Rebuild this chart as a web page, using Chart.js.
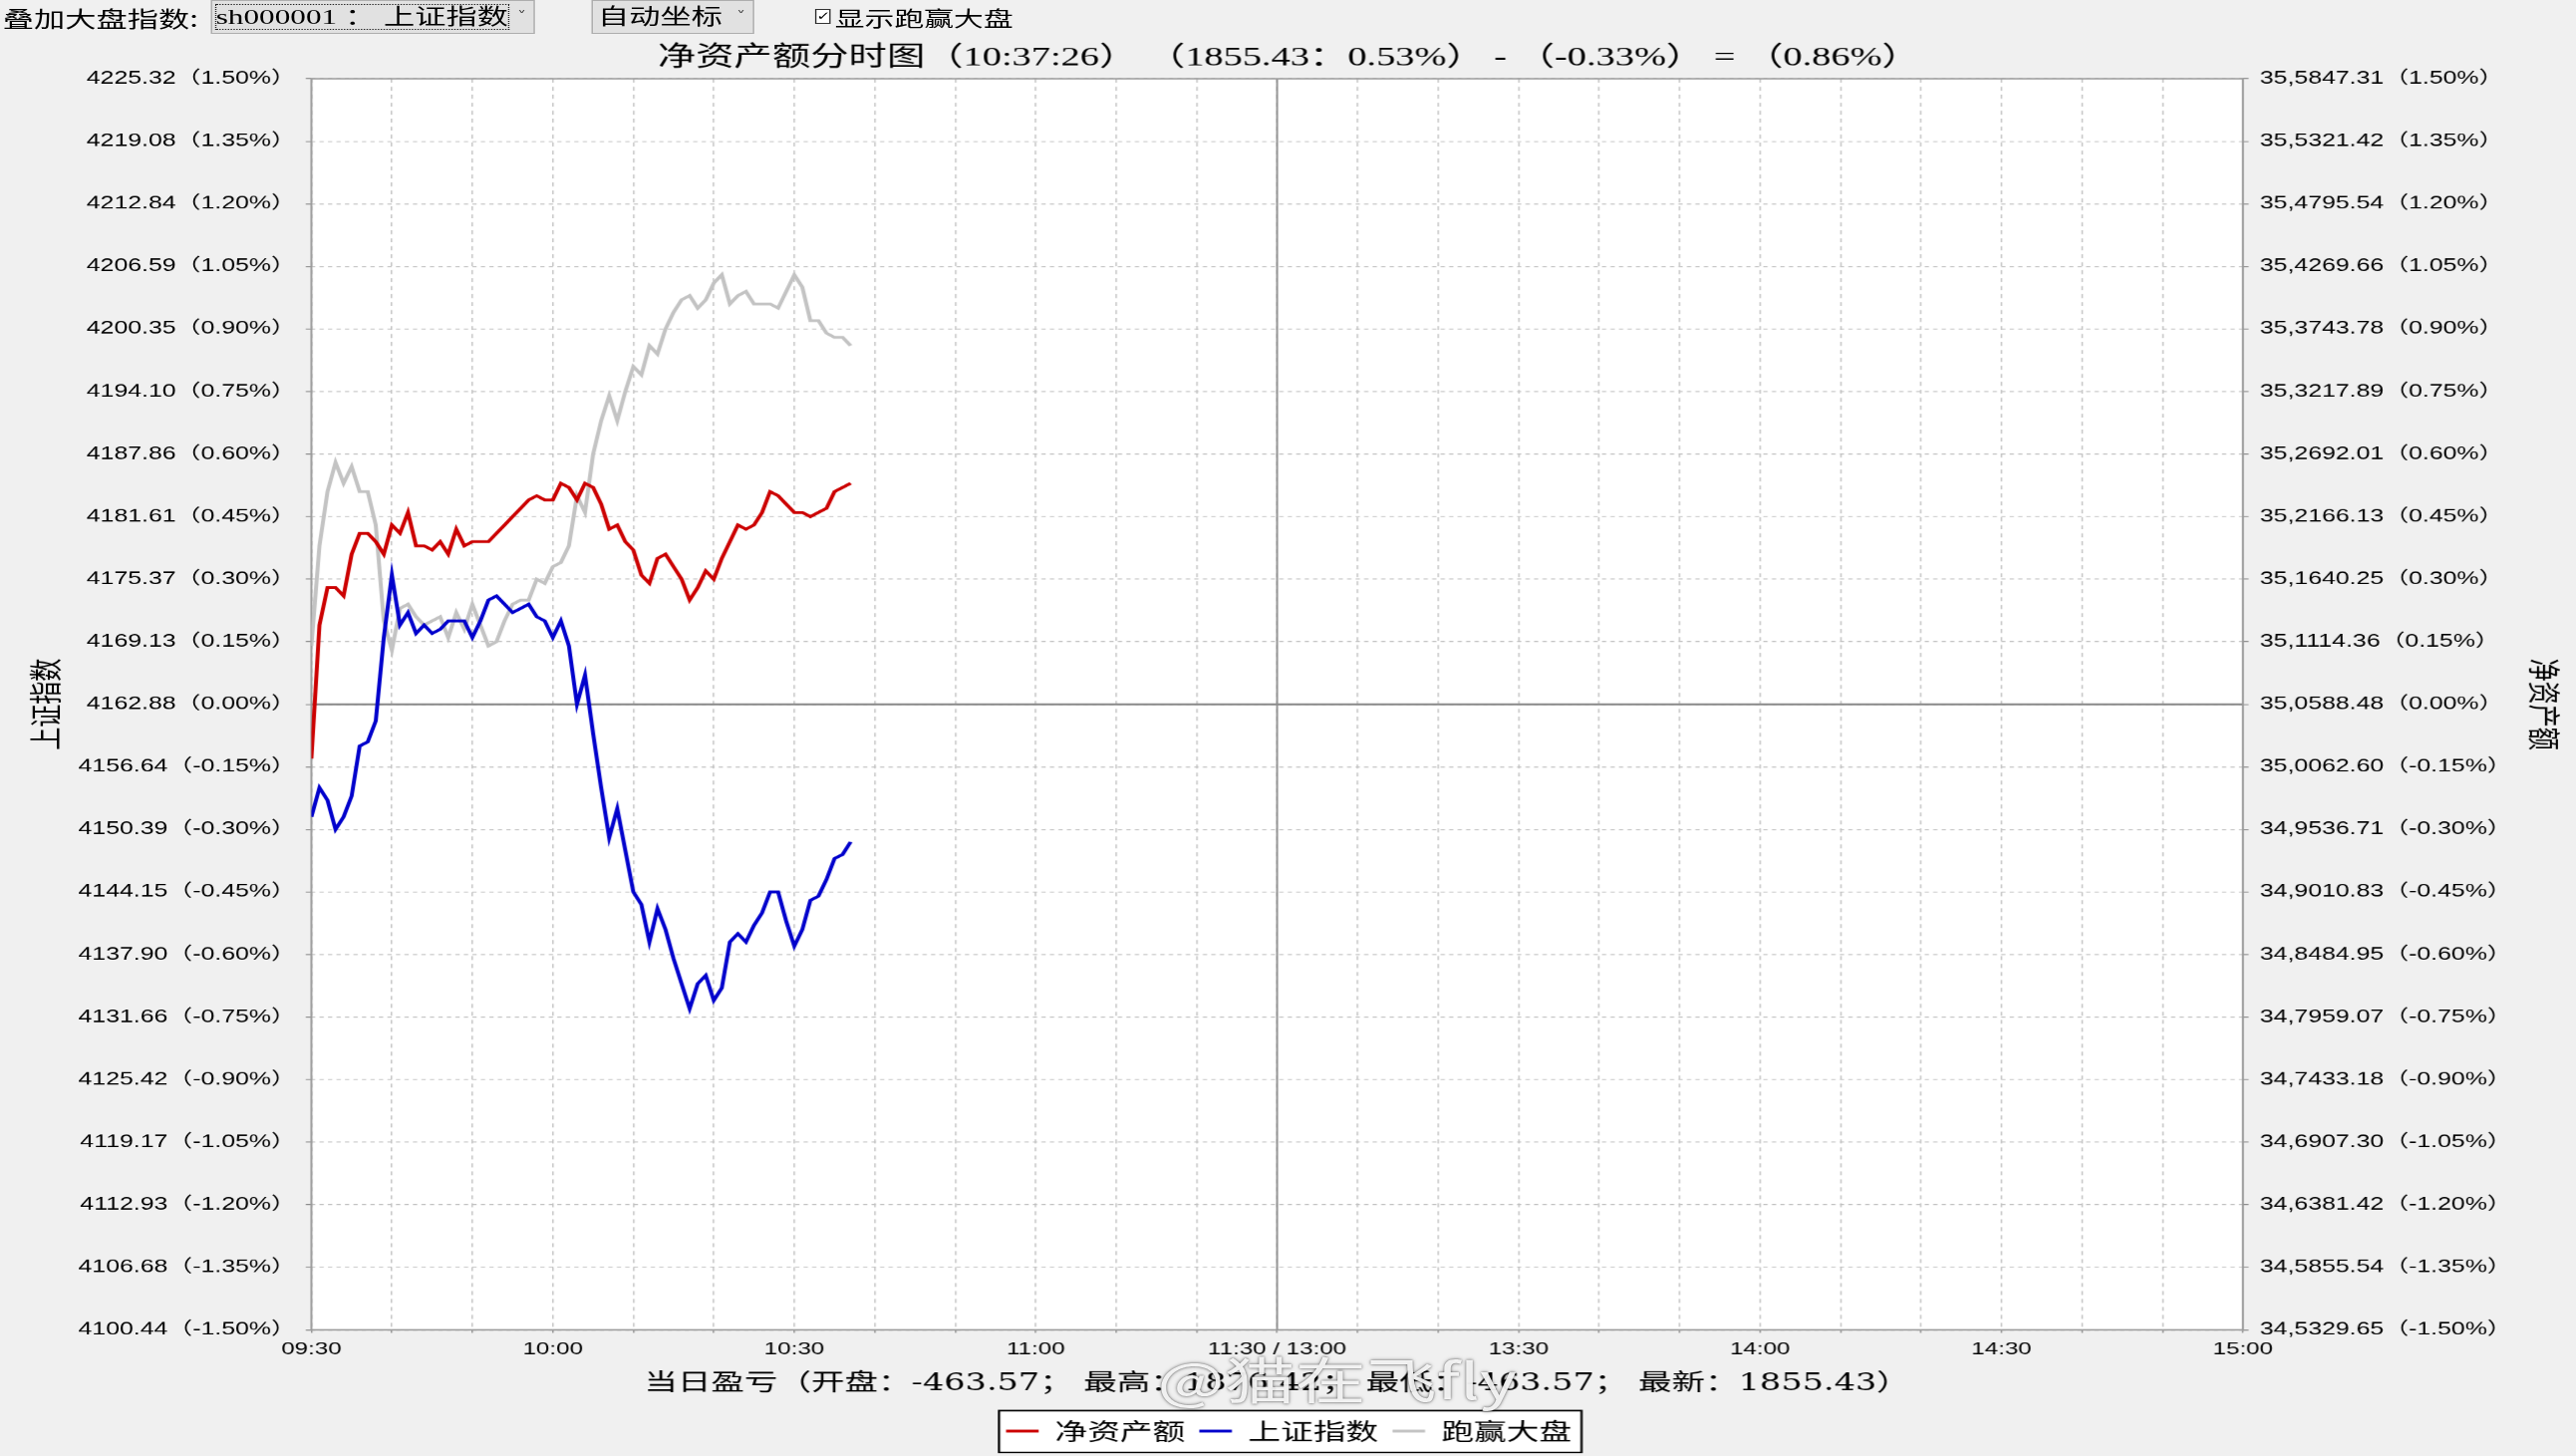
<!DOCTYPE html>
<html>
<head>
<meta charset="utf-8">
<script src="https://cdn.jsdelivr.net/npm/chart.js@4.4.1/dist/chart.umd.min.js"></script>
<style>
html,body{margin:0;padding:0;background:#f0f0f0;overflow:hidden;width:2585px;height:1461px;}
#wrap{position:absolute;left:0;top:0;width:1821px;height:1461px;transform:scaleX(1.42);transform-origin:0 0;}
#c{position:absolute;left:0;top:0;}
.ctl{position:absolute;color:#000;white-space:nowrap;font-family:'Noto Sans CJK SC',sans-serif;}
.sel{position:absolute;top:0;height:34px;box-sizing:border-box;border:1px solid #adadad;background:#e1e1e1;}
.sel .txt{position:absolute;left:3px;top:0;line-height:32px;font-size:22px;font-family:'Liberation Serif','Noto Sans CJK SC',serif;}
.sel .arr{position:absolute;right:5px;top:0;line-height:30px;font-size:13px;font-family:'DejaVu Sans',sans-serif;color:#444;}
.sel .focus{position:absolute;left:2px;top:3px;right:17px;bottom:3px;border:1px dotted #222;}
#wm{position:absolute;left:818px;top:1357px;font-size:50px;line-height:1;font-family:'Noto Sans CJK SC',sans-serif;color:rgba(255,255,255,0.9);text-shadow:0 0 2px rgba(0,0,0,0.55),0 0 4px rgba(0,0,0,0.3);white-space:nowrap;}
</style>
</head>
<body>
<div id="wrap">
  <canvas id="c" width="1821" height="1461"></canvas>
  <div class="ctl" style="left:2px;top:0;line-height:34px;font-size:22px;">叠加大盘指数:</div>
  <div class="sel" style="left:148.6px;width:229.4px;"><div class="focus"></div><div class="txt">sh000001 ： 上证指数</div><div class="arr">˅</div></div>
  <div class="sel" style="left:417.6px;width:115.4px;"><div class="txt" style="left:4px;">自动坐标</div><div class="arr">˅</div></div>
  <div class="ctl" style="left:576px;top:9px;width:11px;height:15px;box-sizing:border-box;border:1px solid #333;background:#fff;font-size:12px;line-height:13px;text-align:center;font-family:'DejaVu Sans',sans-serif;">✓</div>
  <div class="ctl" style="left:590px;top:0;line-height:34px;font-size:21px;">显示跑赢大盘</div>
  <div id="wm">@猫在飞fly</div>
</div>
<script>
// ---------------- data ----------------
const times = ["09:30","09:31","09:32","09:33","09:34","09:35","09:36","09:37","09:38","09:39",
  "09:40","09:41","09:42","09:43","09:44","09:45","09:46","09:47","09:48","09:49",
  "09:50","09:51","09:52","09:53","09:54","09:55","09:56","09:57","09:58","09:59",
  "10:00","10:01","10:02","10:03","10:04","10:05","10:06","10:07","10:08","10:09",
  "10:10","10:11","10:12","10:13","10:14","10:15","10:16","10:17","10:18","10:19",
  "10:20","10:21","10:22","10:23","10:24","10:25","10:26","10:27","10:28","10:29",
  "10:30","10:31","10:32","10:33","10:34","10:35","10:36","10:37"];

// 净资产额 (%)
const netAssetPct = [-0.13,0.19,0.28,0.28,0.26,0.36,0.41,0.41,0.39,0.36,
  0.43,0.41,0.46,0.38,0.38,0.37,0.39,0.36,0.42,0.38,
  0.39,0.39,0.39,0.41,0.43,0.45,0.47,0.49,0.50,0.49,
  0.49,0.53,0.52,0.49,0.53,0.52,0.48,0.42,0.43,0.39,
  0.37,0.31,0.29,0.35,0.36,0.33,0.30,0.25,0.28,0.32,
  0.30,0.35,0.39,0.43,0.42,0.43,0.46,0.51,0.50,0.48,
  0.46,0.46,0.45,0.46,0.47,0.51,0.52,0.53];

// 上证指数 (%)
const indexPct = [-0.27,-0.20,-0.23,-0.30,-0.27,-0.22,-0.10,-0.09,-0.04,0.16,
  0.31,0.19,0.22,0.17,0.19,0.17,0.18,0.20,0.20,0.20,
  0.16,0.20,0.25,0.26,0.24,0.22,0.23,0.24,0.21,0.20,
  0.16,0.20,0.14,0.00,0.07,-0.07,-0.20,-0.32,-0.25,-0.35,
  -0.45,-0.48,-0.57,-0.49,-0.54,-0.61,-0.67,-0.73,-0.67,-0.65,
  -0.71,-0.68,-0.57,-0.55,-0.57,-0.53,-0.50,-0.45,-0.45,-0.52,
  -0.58,-0.54,-0.47,-0.46,-0.42,-0.37,-0.36,-0.33];

// 跑赢大盘 (%)
const excessPct = [0.14,0.38,0.51,0.58,0.53,0.57,0.51,0.51,0.43,0.20,
  0.13,0.23,0.24,0.21,0.19,0.20,0.21,0.16,0.22,0.18,
  0.24,0.19,0.14,0.15,0.20,0.24,0.25,0.25,0.30,0.29,
  0.33,0.34,0.38,0.50,0.46,0.60,0.68,0.74,0.68,0.75,
  0.81,0.79,0.86,0.84,0.90,0.94,0.97,0.98,0.95,0.97,
  1.01,1.03,0.96,0.98,0.99,0.96,0.96,0.96,0.95,0.99,
  1.03,1.00,0.92,0.92,0.89,0.88,0.88,0.86];

const seriesNames = ["净资产额","上证指数","跑赢大盘"];

const yTickPct = [1.50,1.35,1.20,1.05,0.90,0.75,0.60,0.45,0.30,0.15,0.00,
  -0.15,-0.30,-0.45,-0.60,-0.75,-0.90,-1.05,-1.20,-1.35,-1.50];
const leftTickLabels = ["4225.32（1.50%）","4219.08（1.35%）","4212.84（1.20%）","4206.59（1.05%）",
  "4200.35（0.90%）","4194.10（0.75%）","4187.86（0.60%）","4181.61（0.45%）","4175.37（0.30%）",
  "4169.13（0.15%）","4162.88（0.00%）","4156.64（-0.15%）","4150.39（-0.30%）","4144.15（-0.45%）",
  "4137.90（-0.60%）","4131.66（-0.75%）","4125.42（-0.90%）","4119.17（-1.05%）","4112.93（-1.20%）",
  "4106.68（-1.35%）","4100.44（-1.50%）"];
const rightTickLabels = ["35,5847.31（1.50%）","35,5321.42（1.35%）","35,4795.54（1.20%）","35,4269.66（1.05%）",
  "35,3743.78（0.90%）","35,3217.89（0.75%）","35,2692.01（0.60%）","35,2166.13（0.45%）","35,1640.25（0.30%）",
  "35,1114.36（0.15%）","35,0588.48（0.00%）","35,0062.60（-0.15%）","34,9536.71（-0.30%）","34,9010.83（-0.45%）",
  "34,8484.95（-0.60%）","34,7959.07（-0.75%）","34,7433.18（-0.90%）","34,6907.30（-1.05%）","34,6381.42（-1.20%）",
  "34,5855.54（-1.35%）","34,5329.65（-1.50%）"];

const xTickMinutes = [0,30,60,90,120,150,180,210,240];
const xTickLabels = ["09:30","10:00","10:30","11:00","11:30 / 13:00","13:30","14:00","14:30","15:00"];

const titleText = "净资产额分时图（10:37:26） （1855.43：0.53%） - （-0.33%） = （0.86%）";
const footerText = "当日盈亏（开盘：-463.57； 最高：1876.42； 最低：-463.57； 最新：1855.43）";
const leftAxisTitle = "上证指数";
const rightAxisTitle = "净资产额";

// ---------------- helpers ----------------
function toMinute(t){
  const p = t.split(':').map(Number);
  let v = p[0]*60 + p[1] - 570;
  if (p[0] >= 13) v -= 90;
  return v;
}
const pts = arr => arr.map((v,i) => ({x: toMinute(times[i]), y: v}));
const keyOf = v => Number(v).toFixed(2);
const leftMap = {}, rightMap = {};
yTickPct.forEach((p,i) => { leftMap[keyOf(p)] = leftTickLabels[i]; rightMap[keyOf(p)] = rightTickLabels[i]; });
const xMap = {};
xTickMinutes.forEach((m,i) => { xMap[m] = xTickLabels[i]; });

const tickFont = {family:"'Liberation Sans','Noto Sans CJK SC'", size:17.5};

const framePlugin = {
  id: 'frame',
  beforeDraw(chart){
    const {ctx, chartArea:a} = chart;
    ctx.save();
    ctx.fillStyle = '#ffffff';
    ctx.fillRect(a.left, a.top, a.right-a.left, a.bottom-a.top);
    const lg = chart.legend;
    if (lg && lg.legendHitBoxes && lg.legendHitBoxes.length){
      const hb = lg.legendHitBoxes;
      const l = Math.min(...hb.map(h=>h.left)) - 5;
      const r = Math.max(...hb.map(h=>h.left+h.width)) + 7;
      const t = lg.top + 1, b = lg.bottom;
      ctx.fillStyle = '#ffffff';
      ctx.fillRect(l, t, r-l, b-t);
      ctx.strokeStyle = '#000000';
      ctx.lineWidth = 1.6;
      ctx.strokeRect(l, t, r-l, b-t);
    }
    ctx.restore();
  },
  beforeDatasetsDraw(chart){
    const {ctx, chartArea:a, scales} = chart;
    ctx.save();
    ctx.strokeStyle = '#8c8c8c';
    ctx.lineWidth = 2;
    const y0 = scales.y.getPixelForValue(0);
    ctx.beginPath(); ctx.moveTo(a.left, y0); ctx.lineTo(a.right, y0); ctx.stroke();
    ctx.lineWidth = 1.3;
    const xm = scales.x.getPixelForValue(120);
    ctx.beginPath(); ctx.moveTo(xm, a.top); ctx.lineTo(xm, a.bottom); ctx.stroke();
    ctx.strokeStyle = '#9a9a9a';
    ctx.lineWidth = 1.4;
    ctx.strokeRect(a.left, a.top, a.right-a.left, a.bottom-a.top);
    ctx.restore();
  }
};

Chart.defaults.color = '#000';

new Chart(document.getElementById('c'), {
  type: 'line',
  data: {
    datasets: [
      {label: seriesNames[0], data: pts(netAssetPct), borderColor:'#cc0000', backgroundColor:'#cc0000', borderWidth:2.8, pointRadius:0, tension:0, fill:false, yAxisID:'y'},
      {label: seriesNames[1], data: pts(indexPct), borderColor:'#0000cc', backgroundColor:'#0000cc', borderWidth:2.8, pointRadius:0, tension:0, fill:false, yAxisID:'y'},
      {label: seriesNames[2], data: pts(excessPct), borderColor:'#c3c3c3', backgroundColor:'#c3c3c3', borderWidth:2.8, pointRadius:0, tension:0, fill:false, yAxisID:'y'}
    ]
  },
  options: {
    responsive: false,
    animation: false,
    devicePixelRatio: 1.42,
    events: [],
    layout: {padding: {left:0, right:0, top:0, bottom:4}},
    plugins: {
      title: {display:true, text:titleText, color:'#000',
        font:{family:"'Liberation Serif','Noto Sans CJK SC'", size:27, weight:'normal'},
        padding:{top:42.1, bottom:4.5}},
      legend: {position:'bottom',
        labels:{usePointStyle:true, pointStyle:'line', pointStyleWidth:23, color:'#000', padding:10,
          font:{family:"'Noto Sans CJK SC'", size:23}}},
      tooltip: {enabled:false}
    },
    scales: {
      x: {
        type:'linear', position:'bottom', min:0, max:240,
        afterBuildTicks: s => { const t=[]; for (let m=0; m<=240; m+=10) t.push({value:m}); s.ticks = t; },
        afterFit: s => { s.height = 80; },
        ticks:{autoSkip:false, maxRotation:0, minRotation:0, padding:6.8, color:'#000',
          font:{family:"'Liberation Sans'", size:17},
          callback: v => (xMap[v] !== undefined ? xMap[v] : '')},
        grid:{color:'#c2c2c2', lineWidth:1, tickLength:3, tickColor:'#8c8c8c'},
        border:{display:false, dash:[4,4]},
        title:{display:true, text:footerText, color:'#000',
          font:{family:"'DejaVu Serif','Noto Sans CJK SC'", size:23.6},
          padding:{top:0, bottom:11.5}}
      },
      y: {
        type:'linear', position:'left', min:-1.5, max:1.5,
        afterBuildTicks: s => { s.ticks = yTickPct.slice().reverse().map(v => ({value:v})); },
        afterFit: s => { s.width = 220; },
        ticks:{autoSkip:false, padding:7, color:'#000', font:tickFont, callback: v => leftMap[keyOf(v)]},
        grid:{color:'#c2c2c2', lineWidth:1, tickLength:4, tickColor:'#8c8c8c'},
        border:{display:false, dash:[3,3]},
        title:{display:true, text:leftAxisTitle, color:'#000', font:{family:"'Noto Sans CJK SC'", size:23}, padding:{top:18, bottom:0}}
      },
      y1: {
        type:'linear', position:'right', min:-1.5, max:1.5,
        afterBuildTicks: s => { s.ticks = yTickPct.slice().reverse().map(v => ({value:v})); },
        afterFit: s => { s.width = 236.5; },
        ticks:{autoSkip:false, padding:8, color:'#000', font:tickFont, callback: v => rightMap[keyOf(v)]},
        grid:{drawOnChartArea:false, color:'#c2c2c2', tickLength:4, tickColor:'#8c8c8c'},
        border:{display:false},
        title:{display:true, text:rightAxisTitle, color:'#000', font:{family:"'Noto Sans CJK SC'", size:23}, padding:{top:9.7, bottom:0}}
      }
    }
  },
  plugins: [framePlugin]
});
</script>
</body>
</html>
